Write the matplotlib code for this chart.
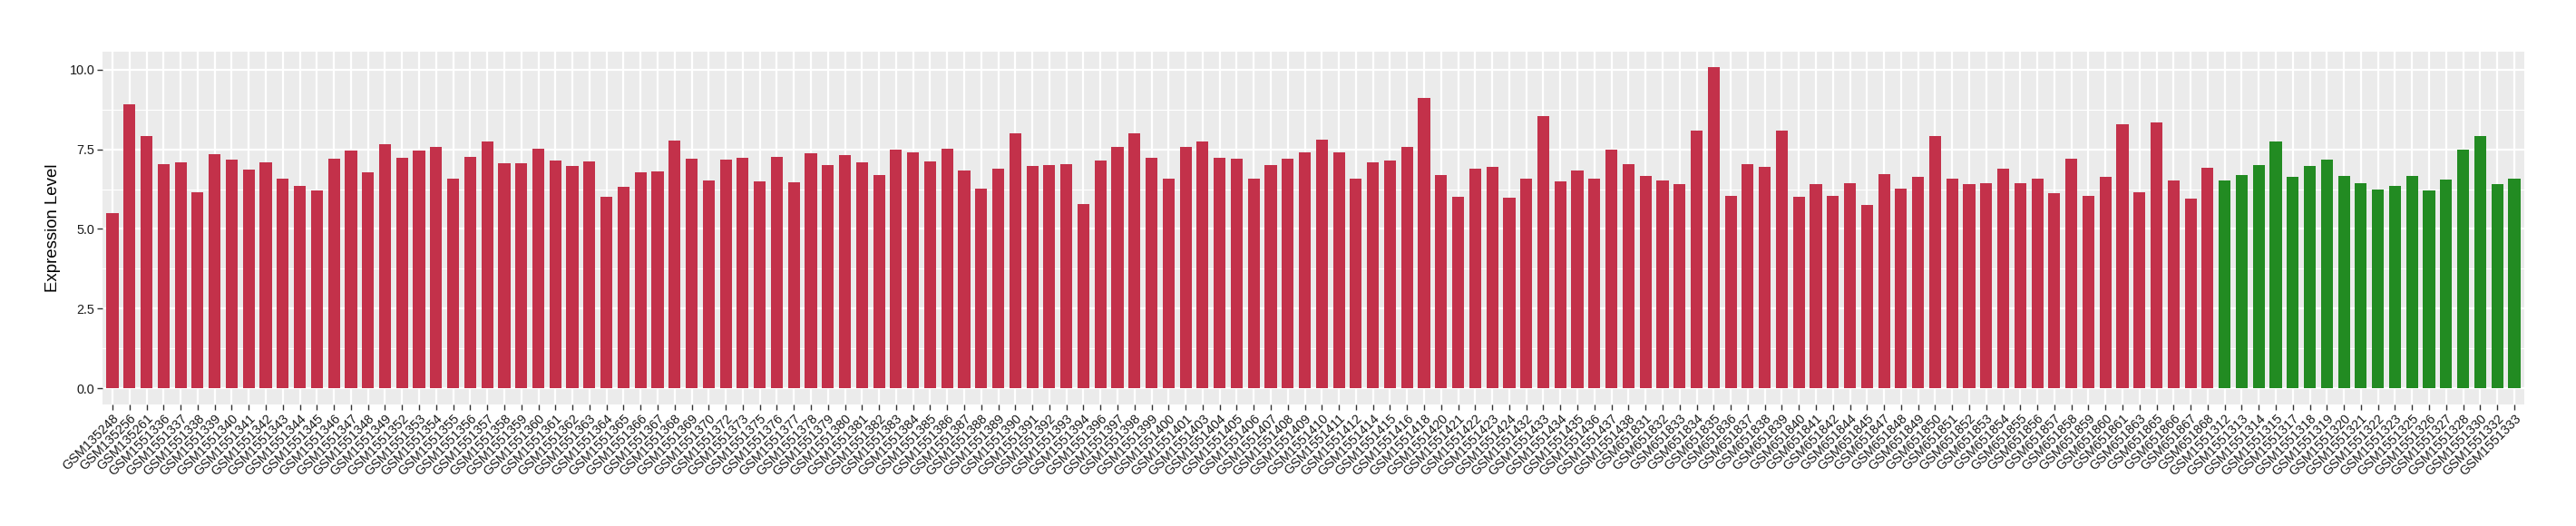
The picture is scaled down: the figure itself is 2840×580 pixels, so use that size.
import matplotlib
matplotlib.use("Agg")
import matplotlib.pyplot as plt
import numpy as np

# sample ids and expression values (red group, then green group)
red_samples = [
    "GSM135248", "GSM135256", "GSM135261", "GSM1551336", "GSM1551337", "GSM1551338",
    "GSM1551339", "GSM1551340", "GSM1551341", "GSM1551342", "GSM1551343", "GSM1551344",
    "GSM1551345", "GSM1551346", "GSM1551347", "GSM1551348", "GSM1551349", "GSM1551352",
    "GSM1551353", "GSM1551354", "GSM1551355", "GSM1551356", "GSM1551357", "GSM1551358",
    "GSM1551359", "GSM1551360", "GSM1551361", "GSM1551362", "GSM1551363", "GSM1551364",
    "GSM1551365", "GSM1551366", "GSM1551367", "GSM1551368", "GSM1551369", "GSM1551370",
    "GSM1551372", "GSM1551373", "GSM1551375", "GSM1551376", "GSM1551377", "GSM1551378",
    "GSM1551379", "GSM1551380", "GSM1551381", "GSM1551382", "GSM1551383", "GSM1551384",
    "GSM1551385", "GSM1551386", "GSM1551387", "GSM1551388", "GSM1551389", "GSM1551390",
    "GSM1551391", "GSM1551392", "GSM1551393", "GSM1551394", "GSM1551396", "GSM1551397",
    "GSM1551398", "GSM1551399", "GSM1551400", "GSM1551401", "GSM1551403", "GSM1551404",
    "GSM1551405", "GSM1551406", "GSM1551407", "GSM1551408", "GSM1551409", "GSM1551410",
    "GSM1551411", "GSM1551412", "GSM1551414", "GSM1551415", "GSM1551416", "GSM1551418",
    "GSM1551420", "GSM1551421", "GSM1551422", "GSM1551423", "GSM1551424", "GSM1551432",
    "GSM1551433", "GSM1551434", "GSM1551435", "GSM1551436", "GSM1551437", "GSM1551438",
    "GSM651831", "GSM651832", "GSM651833", "GSM651834", "GSM651835", "GSM651836",
    "GSM651837", "GSM651838", "GSM651839", "GSM651840", "GSM651841", "GSM651842",
    "GSM651844", "GSM651845", "GSM651847", "GSM651848", "GSM651849", "GSM651850",
    "GSM651851", "GSM651852", "GSM651853", "GSM651854", "GSM651855", "GSM651856",
    "GSM651857", "GSM651858", "GSM651859", "GSM651860", "GSM651861", "GSM651863",
    "GSM651865", "GSM651866", "GSM651867", "GSM651868",
]
red_values = [
    5.51, 8.91, 7.91, 7.04, 7.09, 6.16,
    7.35, 7.18, 6.86, 7.09, 6.58, 6.36,
    6.21, 7.21, 7.46, 6.78, 7.66, 7.24,
    7.46, 7.58, 6.58, 7.26, 7.74, 7.06,
    7.06, 7.52, 7.15, 6.98, 7.13, 6.01,
    6.33, 6.78, 6.81, 7.78, 7.21, 6.53,
    7.18, 7.24, 6.50, 7.26, 6.47, 7.38,
    7.01, 7.32, 7.09, 6.69, 7.49, 7.41,
    7.13, 7.52, 6.84, 6.27, 6.89, 8.01,
    6.98, 7.01, 7.04, 5.79, 7.15, 7.58,
    8.01, 7.24, 6.58, 7.58, 7.74, 7.24,
    7.21, 6.58, 7.01, 7.21, 7.41, 7.81,
    7.41, 6.58, 7.09, 7.15, 7.58, 9.11,
    6.69, 6.01, 6.89, 6.96, 5.99, 6.58,
    8.54, 6.50, 6.84, 6.58, 7.49, 7.04,
    6.67, 6.53, 6.41, 8.09, 10.07, 6.04,
    7.04, 6.96, 8.09, 6.01, 6.41, 6.04,
    6.44, 5.76, 6.73, 6.27, 6.64, 7.91,
    6.58, 6.41, 6.44, 6.89, 6.44, 6.58,
    6.13, 7.21, 6.04, 6.64, 8.29, 6.16,
    8.34, 6.53, 5.96, 6.93,
]
green_samples = [
    "GSM1551312", "GSM1551313", "GSM1551314", "GSM1551315", "GSM1551317", "GSM1551318",
    "GSM1551319", "GSM1551320", "GSM1551321", "GSM1551322", "GSM1551323", "GSM1551325",
    "GSM1551326", "GSM1551327", "GSM1551328", "GSM1551330", "GSM1551332", "GSM1551333",
]
green_values = [
    6.53, 6.69, 7.01, 7.74, 6.64, 6.98,
    7.18, 6.67, 6.44, 6.24, 6.36, 6.67,
    6.21, 6.56, 7.49, 7.91, 6.41, 6.58,
]
yticks = [0.0, 2.5, 5.0, 7.5, 10.0]

RED = "#C3314A"
GREEN = "#228B22"

plt.rcParams['font.family'] = ['Liberation Sans', 'DejaVu Sans']

samples = red_samples + green_samples
values = red_values + green_values
colors = [RED] * len(red_samples) + [GREEN] * len(green_samples)
x = np.arange(len(samples))

fig = plt.figure(figsize=(28.4, 5.8), dpi=100)
ax = fig.add_axes([0.0397, 0.2316, 0.9403, 0.6704])
ax.set_facecolor("#EBEBEB")

ax.bar(x, values, width=0.7, color=colors, zorder=3)

ax.set_xlim(-0.6, len(samples) - 0.4)
ax.set_ylim(-0.5, 10.57)
ax.set_yticks(yticks)
ax.set_yticklabels(["%.1f" % t for t in yticks])
ax.set_yticks([1.25, 3.75, 6.25, 8.75], minor=True)
ax.set_xticks(x)
ax.set_xticklabels(samples, rotation=45, ha='right', va='top', rotation_mode='anchor')

ax.grid(which='major', color='white', linewidth=1.6, zorder=1)
ax.grid(which='minor', axis='y', color='white', linewidth=0.8, zorder=1)
ax.set_axisbelow(True)
for s in ax.spines.values():
    s.set_visible(False)

ax.tick_params(axis='both', which='major', length=4, width=1, color='#333333',
               labelsize=10.4, labelcolor='#1a1a1a', pad=2)
ax.tick_params(axis='y', which='minor', length=0)
ax.set_ylabel("Expression Level", fontsize=13.4, labelpad=7)

fig.savefig("out.png", dpi=100)
